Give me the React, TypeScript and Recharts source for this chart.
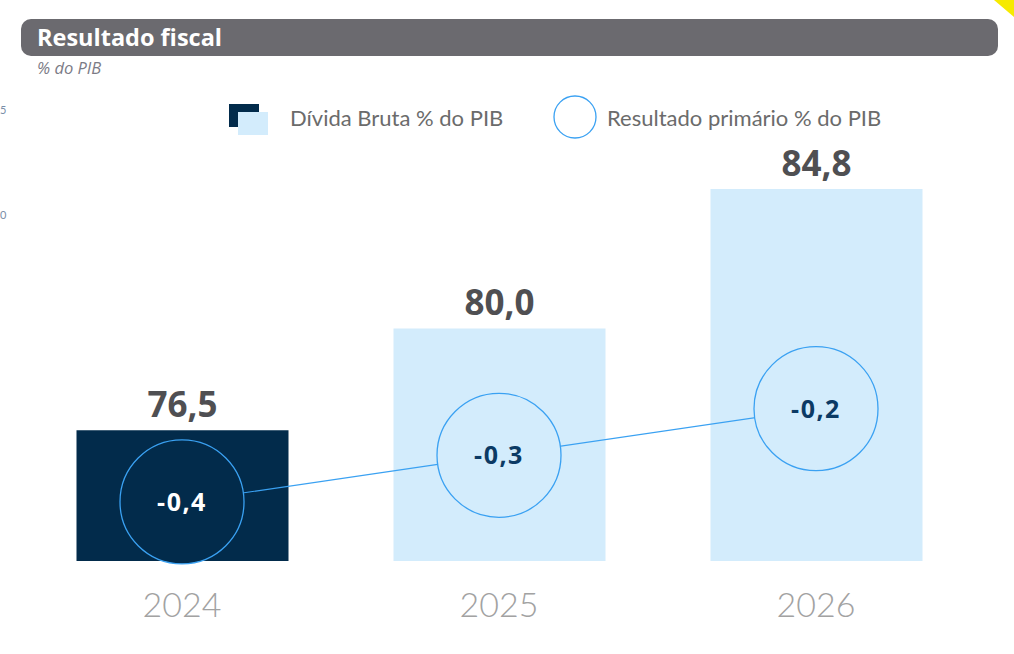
import { Bar, Cell, ComposedChart, LabelList, Line, XAxis, YAxis } from "recharts";

const YEARS = ["2024", "2025", "2026"];
const DIVIDA_BRUTA = [76.5, 80.0, 84.8];
const RESULTADO_PRIMARIO = [-0.4, -0.3, -0.2];

const NAVY = "#022b4b";
const LIGHT = "#d3ecfc";
const LINE_BLUE = "#3aa1f2";
const BAR_FILLS = [NAVY, LIGHT, LIGHT];
const DOT_TEXT = ["#ffffff", "#0b3a64", "#0b3a64"];
const FONT = "Lato, 'Open Sans', sans-serif";
const WIDE = "'Open Sans', Lato, sans-serif";

const data = YEARS.map((year, i) => ({
  year,
  divida: DIVIDA_BRUTA[i],
  primario: RESULTADO_PRIMARIO[i],
}));

const fmt = (v: number) => v.toFixed(1).replace(".", ",");

function PrimarioDot(props: any) {
  const { cx, cy, index, value } = props;
  if (cx == null || cy == null) return null;
  return (
    <g key={`dot-${index}`}>
      <circle cx={cx} cy={cy} r={62} fill={BAR_FILLS[index]} stroke={LINE_BLUE} strokeWidth={1.3} />
      <text
        x={cx}
        y={cy}
        dy={9}
        textAnchor="middle"
        fontFamily={WIDE}
        fontWeight={700}
        fontSize={25}
        letterSpacing={1.5}
        fill={DOT_TEXT[index]}
      >
        {fmt(value)}
      </text>
    </g>
  );
}

function YearTick(props: any) {
  const { x, y, payload } = props;
  return (
    <text x={x} y={y} dy={48} textAnchor="middle" fontFamily={FONT} fontWeight={300} fontSize={34} fill="#a2a2a2">
      {payload.value}
    </text>
  );
}

export default function App() {
  return (
    <div style={{ position: "absolute", left: 0, top: 0, width: 1014, height: 654, background: "#fff", overflow: "hidden" }}>
      <svg width={1014} height={654} style={{ position: "absolute", left: 0, top: 0 }}>
        <polygon points="994,0 1014,0 1014,17" fill="#f6ea00" />
        <rect x={21} y={19} width={977} height={37} rx={10} fill="#6b6a6f" />
        <text x={37} y={46} fontFamily={WIDE} fontWeight={700} fontSize={23.5} fill="#ffffff">
          Resultado fiscal
        </text>
        <text x={37} y={74} fontFamily={WIDE} fontStyle="italic" fontSize={16.5} fill="#7b7b86">
          % do PIB
        </text>
        <text x={0} y={114} fontFamily={FONT} fontSize={11} fill="#7a8ea8">5</text>
        <text x={0} y={219} fontFamily={FONT} fontSize={11} fill="#7a8ea8">0</text>

        {/* legend */}
        <rect x={229} y={104} width={30} height={23} fill={NAVY} />
        <rect x={238} y={112} width={30} height={23} fill={LIGHT} />
        <text x={290} y={126} fontFamily={FONT} fontSize={22} fill="#6b6b6b">
          Dívida Bruta % do PIB
        </text>
        <ellipse cx={575} cy={117} rx={21} ry={21} fill="none" stroke={LINE_BLUE} strokeWidth={1.3} />
        <text x={607} y={126} fontFamily={FONT} fontSize={22} fill="#6b6b6b">
          Resultado primário % do PIB
        </text>
      </svg>
      <div style={{ position: "absolute", left: 0, top: 0 }}>
        <ComposedChart
          width={1014}
          height={654}
          data={data}
          margin={{ top: 154, right: 39.5, bottom: 0, left: 23.5 }}
        >
          <XAxis dataKey="year" axisLine={false} tickLine={false} height={93} tick={<YearTick />} interval={0} />
          <YAxis yAxisId="left" hide domain={[72, 86]} />
          <YAxis yAxisId="right" hide domain={[-0.527, 0.347]} />
          <Bar dataKey="divida" yAxisId="left" barSize={212} isAnimationActive={false}>
            {data.map((d, i) => (
              <Cell key={d.year} fill={BAR_FILLS[i]} />
            ))}
            <LabelList
              dataKey="divida"
              position="top"
              offset={13}
              formatter={(v: any) => fmt(Number(v))}
              style={{ fontFamily: WIDE, fontWeight: 700, fontSize: 35, fill: "#4f4f52" }}
            />
          </Bar>
          <Line
            dataKey="primario"
            yAxisId="right"
            type="linear"
            stroke={LINE_BLUE}
            strokeWidth={1.2}
            dot={<PrimarioDot />}
            activeDot={false}
            isAnimationActive={false}
          />
        </ComposedChart>
      </div>
    </div>
  );
}
